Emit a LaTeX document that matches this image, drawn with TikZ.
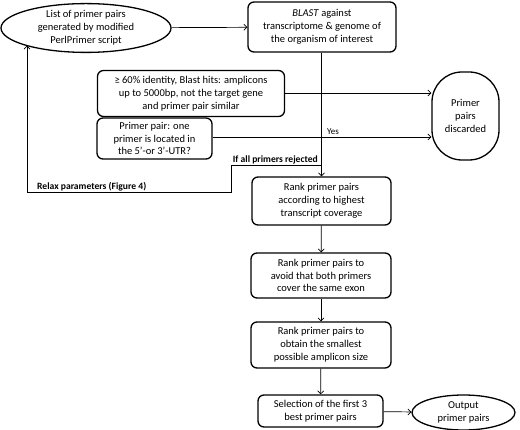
\documentclass[tikz,border=0pt]{standalone}
\usepackage{fontspec}
\setmainfont{Carlito}
\usetikzlibrary{shapes.geometric,arrows.meta}
\begin{document}
\begin{tikzpicture}[x=1pt,y=-1pt,
  box/.style={draw,line width=1.3pt,rounded corners=6pt,align=center,inner sep=0pt,font=\fontsize{10.5}{12.8}\selectfont},
  ell/.style={draw,line width=1.3pt,ellipse,align=center,inner sep=0pt,font=\fontsize{10.5}{12.8}\selectfont},
  conn/.style={line width=0.7pt,-{Straight Barb[length=3pt,width=6pt]}},
  plain/.style={line width=0.7pt},
  lab/.style={font=\fontsize{9.6}{11}\selectfont\bfseries,inner sep=1pt}]
\useasboundingbox (0,0) rectangle (520,430);
\node[ell,minimum width=170pt,minimum height=48pt] (list) at (86,28) {List of primer pairs\\generated by modified\\PerlPrimer script};
\node[box,minimum width=148pt,minimum height=50pt] (blast) at (322,27) {\textit{BLAST} against\\transcriptome \& genome of\\the organism of interest};
\node[box,minimum width=187pt,minimum height=46pt] (ident) at (191,93.5) {≥ 60\% identity, Blast hits: amplicons\\up to 5000bp, not the target gene\\and primer pair similar};
\node[box,minimum width=115pt,minimum height=41pt] (utr) at (154.5,138.5) {Primer pair: one\\primer is located in\\the 5’-or 3’-UTR?};
\node[box,rounded corners=30pt,minimum width=67pt,minimum height=88pt] (disc) at (465.5,116) {Primer\\pairs\\discarded};
\node[box,minimum width=139pt,minimum height=48pt] (r1) at (321.5,201) {Rank primer pairs\\according to highest\\transcript coverage};
\node[box,minimum width=140pt,minimum height=45pt] (r2) at (321,275.5) {Rank primer pairs to\\avoid that both primers\\cover the same exon};
\node[box,minimum width=140pt,minimum height=46pt] (r3) at (321,345) {Rank primer pairs to\\obtain the smallest\\possible amplicon size};
\node[box,minimum width=125pt,minimum height=32pt] (sel) at (320.5,411) {Selection of the first 3\\best primer pairs};
\node[ell,minimum width=103pt,minimum height=35pt] (out) at (463.5,412.5) {Output\\primer pairs};
\draw[conn] (list) -- (blast);
\draw[conn] (blast.south -| r1.north) -- (r1.north);
\draw[conn] (ident.east |- 0,93) -- (disc.west |- 0,93);
\draw[conn] (utr.east |- 0,137) -- node[pos=0.55,above,font=\fontsize{9}{10}\selectfont,inner sep=2pt] (yes) {Yes} (disc.west |- 0,137);
\coordinate (br) at (r1.north |- 0,165);
\coordinate (k1) at (231,165);
\coordinate (k2) at (231,192);
\coordinate (k3) at (27,192);
\draw[plain] (br) -- (k1) -- (k2) -- (k3);
\draw[conn] (k3) -- (k3 |- list.196.5);
\node[lab,anchor=south east] (rej) at (319,165) {If all primers rejected};
\node[lab,anchor=south west] (relax) at (36,192) {Relax parameters (Figure 4)};
\draw[conn] (r1) -- (r2);
\draw[conn] (r2) -- (r3);
\draw[conn] (r3) -- (sel);
\draw[conn] (sel) -- (out);
\end{tikzpicture}
\end{document}
